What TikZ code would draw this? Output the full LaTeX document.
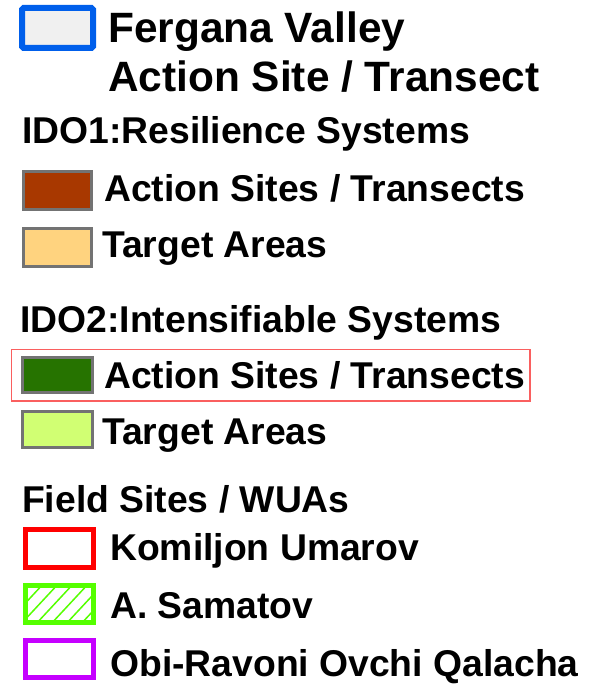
\documentclass[tikz,border=0pt]{standalone}
\usepackage{fontspec}
\setmainfont{Liberation Sans}
\usepackage{xcolor}

\definecolor{valleyblue}{RGB}{0,95,235}
\definecolor{resbrown}{RGB}{168,56,0}
\definecolor{restarget}{RGB}{255,211,127}
\definecolor{intgreen}{RGB}{38,115,0}
\definecolor{inttarget}{RGB}{209,255,115}
\definecolor{samgreen}{RGB}{85,255,0}
\definecolor{obipurple}{RGB}{197,0,255}
\definecolor{boxred}{RGB}{250,95,95}

\begin{document}
\begin{tikzpicture}[x=1pt,y=-1pt,
  legtext/.style={anchor=base west,inner sep=0,font=\fontsize{37.3}{44}\selectfont\bfseries},
  bigtext/.style={anchor=base west,inner sep=0,font=\fontsize{42.4}{50}\selectfont\bfseries},
  areabox/.style={draw=black!55,line width=3pt},
  sitebox/.style={line width=5pt}]
\useasboundingbox (0,0) rectangle (597,684);

% Fergana Valley
\draw[valleyblue,fill=black!6,line width=6pt,rounded corners=1.5pt] (22,8) rectangle (93,48);
\node[bigtext] (fergana) at (108,43) {Fergana Valley};
\node[bigtext] (transect) at (108,92) {Action Site / Transect};

% IDO1
\node[legtext] (idoone) at (22,144) {IDO1:Resilience Systems};
\draw[areabox,fill=resbrown] (23.5,171.5) rectangle (91.5,209.5);
\node[legtext] (resact) at (104,202) {Action Sites / Transects};
\draw[areabox,fill=restarget] (23.5,228.5) rectangle (91.5,266);
\node[legtext] (restgt) at (102,258) {Target Areas};

% IDO2
\node[legtext] (idotwo) at (20,332) {IDO2:Intensifiable Systems};
\draw[boxred,line width=1.5pt] (11.5,349.5) rectangle (530,401);
\draw[areabox,fill=intgreen] (22,357.5) rectangle (92,392.5);
\node[legtext] (intact) at (104,388) {Action Sites / Transects};
\draw[areabox,fill=inttarget] (22,411) rectangle (92,447.5);
\node[legtext] (inttgt) at (102,444) {Target Areas};

% Field sites
\node[legtext] (fields) at (22,512) {Field Sites / WUAs};
\draw[sitebox,draw=red,fill=white] (25,529) rectangle (93.5,567);
\node[legtext] (komil) at (110,560) {Komiljon Umarov};
\begin{scope}
  \clip (25,585) rectangle (93.5,622);
  \foreach \k in {0,...,7}
    \draw[samgreen,line width=1.5pt] (5+15*\k,625) -- (45+15*\k,582);
\end{scope}
\draw[sitebox,draw=samgreen] (25,585) rectangle (93.5,622);
\node[legtext] (samat) at (110,618) {A. Samatov};
\draw[sitebox,draw=obipurple,fill=white] (25,640.5) rectangle (93.5,677);
\node[legtext] (obi) at (110,676) {Obi-Ravoni Ovchi Qalacha};
\end{tikzpicture}
\end{document}
